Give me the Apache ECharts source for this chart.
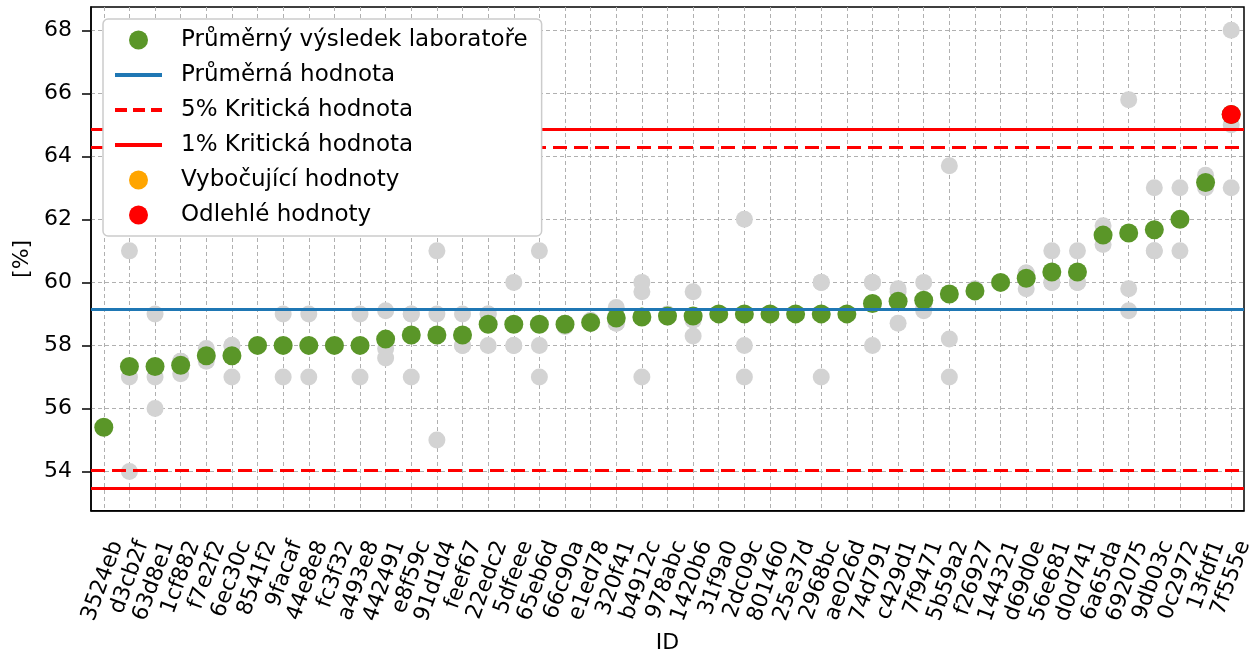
<!DOCTYPE html>
<html>
<head>
<meta charset="UTF-8">
<title></title>
<script src="https://cdn.jsdelivr.net/npm/echarts@6/dist/echarts.min.js"></script>
<style>
  html, body { margin: 0; padding: 0; background: #fff; }
</style>
</head>
<body>
<div id="graf" style="width: 1258px; height: 659px;"></div>
<script type="text/javascript">
// ID laboratoří (seřazeno podle průměru)
var labIds = ['3524eb', 'd3cb2f', '63d8e1', '1cf882', 'f7e2f2', '6ec30c', '8541f2', '9facaf', '44e8e8', 'fc3f32',
  'a493e8', '442491', 'e8f59c', '91d1d4', 'feef67', '22edc2', '5dfeee', '65eb6d', '66c90a', 'e1ed78',
  '320f41', 'b4912c', '978abc', '1420b6', '31f9a0', '2dc09c', '801460', '25e37d', '2968bc', 'ae026d',
  '74d791', 'c429d1', '7f9471', '5b59a2', 'f26927', '144321', 'd69d0e', '56e681', 'd0d741', '6a65da',
  '692075', '9db03c', '0c2972', '13fdf1', '7f555e'];

// jednotlivé výsledky laboratoří
var labResults = [
  [55.4, 55.4, 55.4], [61, 57, 54], [59, 57, 56], [57.5, 57.5, 57.1], [57.9, 57.5, 57.6],
  [58, 58, 57], [58, 58, 58], [59, 58, 57], [59, 58, 57], [58, 58, 58],
  [59, 58, 57], [59.1, 57.9, 57.6], [59, 59, 57], [61, 59, 55], [59, 58, 58],
  [59, 59, 58], [60, 58, 58], [61, 58, 57], [58.6, 58.7, 58.7], [58.8, 58.7, 58.7],
  [59.2, 58.7, 58.7], [60, 59.7, 57], [59, 58.9, 58.9], [59.7, 58.8, 58.3], [59, 59, 59],
  [62, 58, 57], [59, 59, 59], [59, 59, 59], [60, 60, 57], [59, 59, 59],
  [60, 60, 58], [59.8, 59.7, 58.7], [60, 59.2, 59.1], [63.7, 58.2, 57], [59.8, 59.7, 59.7],
  [60, 60, 60], [60.3, 60.3, 59.8], [61, 60, 60], [61, 60, 60], [61.8, 61.5, 61.2],
  [65.8, 59.8, 59.1], [63, 61, 61], [63, 62, 61], [63.4, 63.1, 63.0], [68, 65, 63]
];

// průměry laboratoří
var labMeans = [55.4, 57.33, 57.33, 57.37, 57.67, 57.67, 58, 58, 58, 58,
  58, 58.2, 58.33, 58.33, 58.33, 58.67, 58.67, 58.67, 58.67, 58.73,
  58.87, 58.9, 58.93, 58.93, 59, 59, 59, 59, 59, 59,
  59.33, 59.4, 59.43, 59.63, 59.73, 60, 60.13, 60.33, 60.33, 61.5,
  61.57, 61.67, 62, 63.17, 65.33];

var meanValue = 59.16;
var crit5 = [54.04, 64.29];
var crit1 = [53.47, 64.87];
var stragglerIds = [];
var outlierIds = ['7f555e'];

var yRange = [52.75, 68.74];

var grayData = [];
for (var i = 0; i < labIds.length; i++) {
  for (var j = 0; j < labResults[i].length; j++) {
    grayData.push([labIds[i], labResults[i][j]]);
  }
}
var greenData = labIds.map(function(id, i) { return [id, labMeans[i]]; });
function pick(ids) {
  return ids.map(function(id) { return [id, labMeans[labIds.indexOf(id)]]; });
}

var font = 'DejaVu Sans';
var gridStyle = { color: '#b0b0b0', type: [4, 3], width: 1 };
var noSymbol = { opacity: 0 };

var myChart = echarts.init(document.getElementById('graf'));
myChart.setOption({
  animation: false,
  textStyle: { fontFamily: font },
  grid: { left: 91, right: 14, top: 7, bottom: 147, show: true, borderColor: '#000', borderWidth: 1.5, backgroundColor: 'transparent' },
  legend: {
    orient: 'vertical',
    left: 103, top: 19,
    z: 20,
    padding: [9, 14, 9, 10],
    itemGap: 11,
    itemWidth: 47, itemHeight: 19,
    backgroundColor: '#ffffff',
    borderColor: '#cccccc', borderWidth: 1.5, borderRadius: 5,
    textStyle: { fontFamily: font, fontSize: 23, color: '#000', lineHeight: 24, padding: [0, 0, 0, 14] },
    data: [
      { name: 'Průměrný výsledek laboratoře' },
      { name: 'Průměrná hodnota', itemStyle: noSymbol, lineStyle: { width: 4 } },
      { name: '5% Kritická hodnota', itemStyle: noSymbol, lineStyle: { width: 4, type: [12, 6] } },
      { name: '1% Kritická hodnota', itemStyle: noSymbol, lineStyle: { width: 4 } },
      { name: 'Vybočující hodnoty' },
      { name: 'Odlehlé hodnoty' }
    ]
  },
  xAxis: {
    type: 'category',
    data: labIds,
    boundaryGap: true,
    name: 'ID', nameLocation: 'middle', nameGap: 119,
    nameTextStyle: { fontFamily: font, fontSize: 22, color: '#000' },
    axisLine: { lineStyle: { color: '#000', width: 1.5 } },
    axisTick: { alignWithLabel: true, interval: 0, length: 9, lineStyle: { color: '#000', width: 1.5 } },
    axisLabel: { interval: 0, rotate: 70, fontSize: 22, color: '#000', margin: 26, lineHeight: 22, verticalAlign: 'top', padding: [3, 0, 0, 0] },
    splitLine: { show: true, interval: 0, alignWithLabel: true, lineStyle: gridStyle }
  },
  yAxis: {
    type: 'value',
    min: yRange[0], max: yRange[1], splitNumber: 8,
    name: '[%]', nameLocation: 'middle', nameGap: 58, nameRotate: 90,
    nameTextStyle: { fontFamily: font, fontSize: 22, color: '#000' },
    axisLine: { show: true, lineStyle: { color: '#000', width: 1.5 } },
    axisTick: { show: true, length: 9, lineStyle: { color: '#000', width: 1.5 } },
    axisLabel: { fontSize: 22, color: '#000', margin: 19, showMinLabel: false, showMaxLabel: false },
    splitLine: { show: true, showMinLine: false, showMaxLine: false, lineStyle: gridStyle }
  },
  series: [
    {
      name: 'výsledky', type: 'scatter', data: grayData, symbolSize: 17, z: 2,
      itemStyle: { color: '#d3d3d3', opacity: 1 }, silent: true
    },
    {
      name: 'Průměrný výsledek laboratoře', type: 'scatter', data: greenData, symbolSize: 19, z: 3,
      itemStyle: { color: '#5a9628', opacity: 1 }
    },
    {
      name: 'Průměrná hodnota', type: 'line', data: [], symbol: 'none', z: 4,
      itemStyle: { color: '#1f77b4' }, lineStyle: { color: '#1f77b4', width: 4 },
      markLine: { silent: true, symbol: 'none', label: { show: false },
        lineStyle: { color: '#1f77b4', width: 3, type: 'solid' },
        data: [{ yAxis: meanValue }] }
    },
    {
      name: '5% Kritická hodnota', type: 'line', data: [], symbol: 'none', z: 4,
      itemStyle: { color: '#ff0000' }, lineStyle: { color: '#ff0000', width: 4, type: [12, 6] },
      markLine: { silent: true, symbol: 'none', label: { show: false },
        lineStyle: { color: '#ff0000', width: 3, type: [14, 7] },
        data: crit5.map(function(v) { return { yAxis: v }; }) }
    },
    {
      name: '1% Kritická hodnota', type: 'line', data: [], symbol: 'none', z: 4,
      itemStyle: { color: '#ff0000' }, lineStyle: { color: '#ff0000', width: 4 },
      markLine: { silent: true, symbol: 'none', label: { show: false },
        lineStyle: { color: '#ff0000', width: 3, type: 'solid' },
        data: crit1.map(function(v) { return { yAxis: v }; }) }
    },
    {
      name: 'Vybočující hodnoty', type: 'scatter', data: pick(stragglerIds), symbolSize: 19, z: 5,
      itemStyle: { color: '#ffa500', opacity: 1 }
    },
    {
      name: 'Odlehlé hodnoty', type: 'scatter', data: pick(outlierIds), symbolSize: 19, z: 5,
      itemStyle: { color: '#ff0000', opacity: 1 }
    }
  ]
});
</script>
</body>
</html>
